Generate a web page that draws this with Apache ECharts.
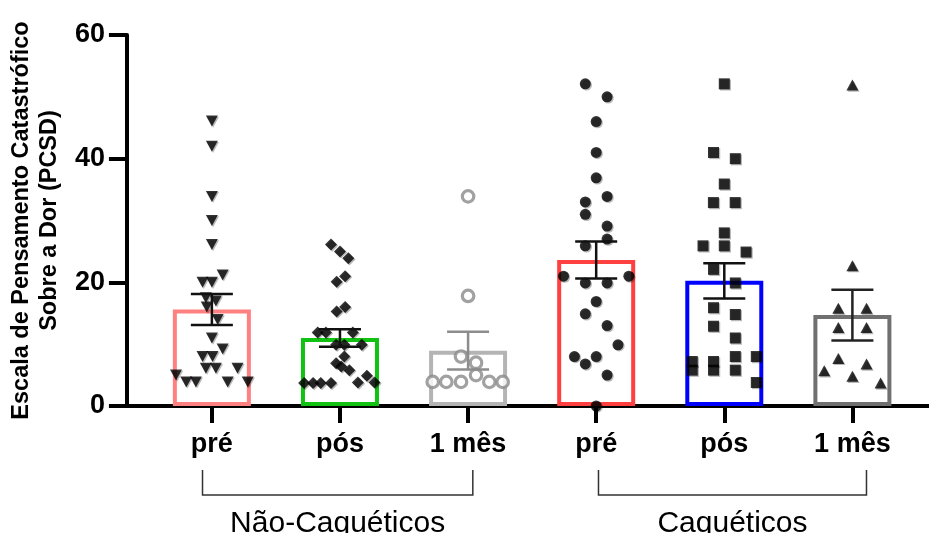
<!DOCTYPE html>
<html>
<head>
<meta charset="utf-8">
<script src="https://cdn.jsdelivr.net/npm/echarts@6/dist/echarts.min.js"></script>
<style>
  html, body { margin: 0; padding: 0; background: #fff; }
  #chart { width: 929px; height: 533px; }
</style>
</head>
<body>
<div id="chart"></div>
<script>
// categories and groups
const categories = ['pré', 'pós', '1 mês', 'pré', 'pós', '1 mês']
const groupNames = ['Não-Caquéticos', 'Caquéticos']
const groupSpans = [[0.927, 3.037], [4.018, 6.11]]

// bar heights (mean) and error (SEM)
const barMeans = [15.6, 11.0, 8.95, 23.6, 20.25, 14.7]
const barSem = [2.5, 1.4, 3.05, 3.0, 2.85, 4.1]

// individual points, with horizontal jitter in category units
const g1Values = [46.1, 42.0, 33.9, 30.0, 26.1, 21.2, 20.0, 20.0, 17.5, 17.0, 16.0, 14.0, 11.0, 9.2, 8.0, 8.0, 6.1, 6.1, 6.1, 5.0, 3.9, 3.9, 3.9, 3.9]
const g1Jitter = [0, 0, 0, 0, 0, 0.084, -0.073, 0, -0.047, 0.031, -0.04, 0.045, 0, 0.084, -0.073, 0.005, -0.047, 0.031, 0.2, -0.28, -0.2, -0.125, 0.123, 0.28]

const g2Values = [26.1, 25.0, 23.9, 21.0, 20.1, 16.0, 15.3, 11.9, 11.9, 11.9, 9.9, 9.9, 9.9, 8.0, 6.9, 6.4, 5.8, 3.7, 3.7, 3.7, 3.7, 3.8, 4.9, 3.8]
const g2Jitter = [-0.07, 0, 0.065, 0.04, -0.026, 0.04, -0.026, -0.174, -0.11, 0.1, -0.03, 0.034, 0.17, 0.034, -0.03, 0.01, 0.073, -0.28, -0.21, -0.15, -0.07, 0.14, 0.21, 0.27]

const g3Values = [33.9, 17.8, 8.0, 7.0, 5.0, 3.9, 3.9, 3.9, 3.9, 3.9]
const g3Jitter = [0, 0, -0.055, 0.062, 0.062, -0.276, -0.17, -0.055, 0.166, 0.27]

const g4Values = [52.1, 50.0, 46.0, 41.0, 36.9, 33.9, 33.0, 31.0, 29.1, 27.0, 25.9, 21.0, 21.0, 19.9, 19.9, 16.9, 14.9, 13.0, 9.9, 8.0, 8.0, 6.8, 5.0, 0]
const g4Jitter = [-0.085, 0.085, 0, 0, 0, 0.085, -0.085, -0.085, 0.085, 0.085, -0.085, -0.255, 0.255, -0.085, 0.085, 0, -0.085, 0.085, 0.17, -0.17, 0, -0.085, 0.085, 0]

const g5Values = [52.1, 41.0, 40.0, 35.9, 32.9, 32.9, 28.0, 25.9, 25.9, 24.9, 22.1, 19.9, 15.9, 14.8, 12.9, 11.0, 8.0, 8.0, 7.2, 5.8, 7.2, 5.8, 5.8, 3.8]
const g5Jitter = [0, -0.084, 0.086, 0, -0.085, 0.085, 0, -0.166, 0, 0.17, -0.084, 0.086, -0.084, 0.086, -0.084, 0.086, 0.086, 0.25, -0.25, -0.25, -0.084, -0.084, 0.086, 0.25]

const g6Values = [51.9, 22.7, 15.8, 15.8, 12.7, 12.7, 7.7, 5.7, 6.8, 4.8, 3.7]
const g6Jitter = [0, 0, -0.11, 0.11, -0.11, 0.11, -0.11, -0.22, 0.11, 0, 0.22]

const barColors = ['#ff8080', '#12c212', '#b4b4b4', '#ff4040', '#0000ff', '#707070']
const errColors = ['#111', '#111', '#8c8c8c', '#111', '#111', '#222']

const FONT = 'Liberation Sans, Arial, Helvetica, sans-serif'
const catPos = categories.map((c, i) => i + 1)

const myChart = echarts.init(document.getElementById('chart'))

function points(values, jitter, k) {
  return values.map((v, i) => [k + jitter[i], v])
}

const shadow = {
  shadowColor: 'rgba(0,0,0,0.35)',
  shadowOffsetX: 1.2,
  shadowOffsetY: 1.2,
  shadowBlur: 0
}

myChart.setOption({
  animation: false,
  grid: { left: 126, right: 0, top: 35, bottom: 127 },
  xAxis: {
    type: 'value',
    min: 0.337,
    max: 6.598,
    splitLine: { show: false },
    axisLine: { show: true, onZero: false, lineStyle: { color: '#000', width: 4 } },
    axisTick: { show: true, customValues: catPos, length: 17, lineStyle: { color: '#000', width: 4 } },
    axisLabel: {
      customValues: catPos,
      formatter: (v) => categories[Math.round(v) - 1] || '',
      color: '#000',
      fontFamily: FONT,
      fontWeight: 'bold',
      fontSize: 27,
      margin: 25
    }
  },
  yAxis: {
    type: 'value',
    min: 0,
    max: 60,
    interval: 20,
    splitLine: { show: false },
    axisLine: { show: true, onZero: false, lineStyle: { color: '#000', width: 4 } },
    axisTick: { show: true, length: 18, lineStyle: { color: '#000', width: 4 } },
    axisLabel: { color: '#000', fontFamily: FONT, fontWeight: 'bold', fontSize: 27, margin: 22 },
    name: 'Escala de Pensamento Catastrófico\nSobre a Dor (PCSD)',
    nameLocation: 'middle',
    nameRotate: 90,
    nameGap: 58,
    nameTextStyle: { color: '#000', fontFamily: FONT, fontWeight: 'bold', fontSize: 23.5, lineHeight: 28 }
  },
  series: [
    {
      type: 'bar',
      z: 1,
      barWidth: 78,
      data: barMeans.map((m, i) => ({
        value: [i + 1, m],
        itemStyle: { color: '#fff', borderColor: barColors[i], borderWidth: 4 }
      }))
    },
    {
      type: 'scatter', z: 3, symbol: 'triangle', symbolRotate: 180, symbolSize: [12, 11],
      itemStyle: Object.assign({ color: '#000' }, shadow),
      data: points(g1Values, g1Jitter, 1)
    },
    {
      type: 'scatter', z: 3, symbol: 'diamond', symbolSize: 12,
      itemStyle: Object.assign({ color: '#000' }, shadow),
      data: points(g2Values, g2Jitter, 2)
    },
    {
      type: 'scatter', z: 3, symbol: 'circle', symbolSize: 11.5,
      itemStyle: { color: '#fff', borderColor: '#8a8a8a', borderWidth: 3.2 },
      data: points(g3Values, g3Jitter, 3)
    },
    {
      type: 'scatter', z: 3, symbol: 'circle', symbolSize: 11,
      itemStyle: Object.assign({ color: '#000' }, shadow),
      data: points(g4Values, g4Jitter, 4)
    },
    {
      type: 'scatter', z: 3, symbol: 'rect', symbolSize: 11,
      itemStyle: Object.assign({ color: '#000' }, shadow),
      data: points(g5Values, g5Jitter, 5)
    },
    {
      type: 'scatter', z: 3, symbol: 'triangle', symbolSize: [12, 11],
      itemStyle: Object.assign({ color: '#000' }, shadow),
      data: points(g6Values, g6Jitter, 6)
    },
    {
      type: 'custom',
      z: 4,
      data: barMeans.map((m, i) => [i + 1, m + barSem[i], m - barSem[i]]),
      renderItem: function (params, api) {
        const hi = api.coord([api.value(0), api.value(1)])
        const lo = api.coord([api.value(0), api.value(2)])
        const half = 21
        const style = { stroke: errColors[params.dataIndex], lineWidth: 2.5 }
        return {
          type: 'group',
          children: [
            { type: 'line', shape: { x1: hi[0], y1: hi[1], x2: lo[0], y2: lo[1] }, style: style },
            { type: 'line', shape: { x1: hi[0] - half, y1: hi[1], x2: hi[0] + half, y2: hi[1] }, style: style },
            { type: 'line', shape: { x1: lo[0] - half, y1: lo[1], x2: lo[0] + half, y2: lo[1] }, style: style }
          ]
        }
      }
    }
  ]
})

// group brackets under the axis
const bracketTop = 470
const bracketBottom = 495
const graphics = []
groupSpans.forEach((span, i) => {
  const x1 = myChart.convertToPixel({ xAxisIndex: 0 }, span[0])
  const x2 = myChart.convertToPixel({ xAxisIndex: 0 }, span[1])
  graphics.push({
    type: 'polyline',
    shape: { points: [[x1, bracketTop], [x1, bracketBottom], [x2, bracketBottom], [x2, bracketTop]] },
    style: { stroke: '#333', lineWidth: 1.5, fill: null }
  })
  graphics.push({
    type: 'text',
    x: (x1 + x2) / 2,
    y: 524,
    style: {
      text: groupNames[i],
      fill: '#000',
      font: '30px ' + FONT,
      textAlign: 'center',
      textVerticalAlign: 'middle'
    }
  })
})
myChart.setOption({ graphic: graphics })
</script>
</body>
</html>
